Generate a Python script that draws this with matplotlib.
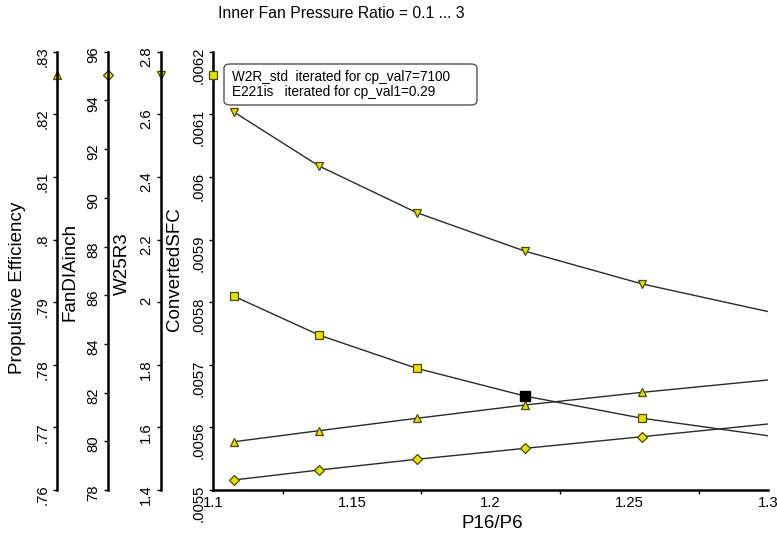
import matplotlib
matplotlib.use("Agg")
import matplotlib.pyplot as plt
from matplotlib.ticker import FuncFormatter, MultipleLocator, FixedLocator
from matplotlib.patches import FancyBboxPatch
import numpy as np

plt.rcParams['font.family'] = ['Liberation Sans', 'DejaVu Sans']

# ---- data ----
p16_p6 = [1.1073, 1.1381, 1.1733, 1.2123, 1.2547, 1.3]
n_marked = 5
converted_sfc = [0.0058098, 0.0057475, 0.0056944, 0.0056501, 0.0056145, 0.0055867]
w25r3 = [2.608, 2.435, 2.286, 2.163, 2.058, 1.970]
propulsive_eff = [0.7677, 0.76947, 0.77145, 0.77357, 0.7756, 0.77757]
fan_dia_inch = [78.41, 78.82, 79.26, 79.71, 80.19, 80.71]
design_index = 3

x_ticks = [1.1, 1.15, 1.2, 1.25, 1.3]
sfc_ticks = [0.0055, 0.0056, 0.0057, 0.0058, 0.0059, 0.006, 0.0061, 0.0062]
w25_ticks = [1.4, 1.6, 1.8, 2.0, 2.2, 2.4, 2.6, 2.8]
eff_ticks = [0.76, 0.77, 0.78, 0.79, 0.80, 0.81, 0.82, 0.83]
fan_ticks = [78, 80, 82, 84, 86, 88, 90, 92, 94, 96]

title = "Inner Fan Pressure Ratio = 0.1 ... 3"
legend_lines = ["W2R_std  iterated for cp_val7=7100",
                "E221is   iterated for cp_val1=0.29"]

# ---- style ----
W, H = 777, 537
fig = plt.figure(figsize=(W / 100, H / 100), dpi=100)
ax_l, ax_r, ax_b, ax_t = 213.3, 768.0, 490.0, 51.7
ax = fig.add_axes([ax_l / W, 1 - ax_b / H, (ax_r - ax_l) / W, (ax_b - ax_t) / H])

fill = '#e2e200'
edge = '#4a4a00'
line_c = '#2a2a2a'
spine_lw = 1.8
tick_fs = 10.7


def fmt(v, pos):
    s = f"{v:.6g}"
    if s.startswith("0."):
        s = s[1:]
    return s


def style_axis(a, ticks, lims):
    for s in ['top', 'right', 'bottom']:
        a.spines[s].set_visible(False)
    a.spines['left'].set_visible(True)
    a.spines['left'].set_linewidth(spine_lw)
    a.yaxis.set_ticks_position('left')
    a.yaxis.set_major_locator(FixedLocator(ticks))
    a.yaxis.set_major_formatter(FuncFormatter(fmt))
    a.set_ylim(*lims)
    a.tick_params(axis='y', which='major', length=3, width=1, pad=2.5,
                  labelsize=tick_fs, labelrotation=90, direction='out')
    a.patch.set_visible(False)


ax.set_xlim(1.1, 1.3)
style_axis(ax, sfc_ticks, (0.0055, 0.0062))
ax.spines['bottom'].set_visible(True)
ax.spines['bottom'].set_linewidth(spine_lw)
ax.xaxis.set_major_locator(FixedLocator(x_ticks))
ax.xaxis.set_minor_locator(MultipleLocator(0.025))
ax.xaxis.set_major_formatter(FuncFormatter(lambda v, p: f"{v:g}"))
ax.tick_params(axis='x', which='major', length=0, pad=4, labelsize=tick_fs)
ax.tick_params(axis='x', which='minor', length=3, width=1, direction='out')

axes_w = ax_r - ax_l
spine_x = {'eff': 57.3, 'fan': 108.3, 'w25': 161.0}


def make_twin(key, ticks, lims):
    t = ax.twinx()
    style_axis(t, ticks, lims)
    t.spines['left'].set_position(('axes', (spine_x[key] - ax_l) / axes_w))
    t.yaxis.set_label_position('left')
    return t


ax_eff = make_twin('eff', eff_ticks, (0.76, 0.83))
ax_fan = make_twin('fan', fan_ticks, (78, 96))
ax_w25 = make_twin('w25', w25_ticks, (1.4, 2.8))

series = [
    (ax, converted_sfc, 's', 5.2),
    (ax_w25, w25r3, 'v', 6.2),
    (ax_eff, propulsive_eff, '^', 6.2),
    (ax_fan, fan_dia_inch, 'D', 5.2),
]
for a, ys, mk, ms in series:
    a.plot(p16_p6, ys, color=line_c, lw=1.0, zorder=2)
    a.plot(p16_p6[:n_marked], ys[:n_marked], ls='none', marker=mk, ms=ms,
           mfc=fill, mec=edge, mew=0.9, zorder=3)

# design point highlight
ax.plot([p16_p6[design_index]], [converted_sfc[design_index]], ls='none',
        marker='s', ms=7, mfc='black', mec='black', zorder=5)

# axis indicator markers at top of each vertical axis
ind_y = (ax_b - 75.0) / (ax_b - ax_t)
for xpix, mk, ms in [(57.3, '^', 6.2), (108.3, 'D', 5.2), (161.0, 'v', 6.2), (213.3, 's', 5.2)]:
    ax.plot([(xpix - ax_l) / axes_w], [ind_y], transform=ax.transAxes, ls='none',
            marker=mk, ms=ms, mfc=fill, mec=edge, mew=0.9, clip_on=False, zorder=6)

# axis labels
lab_fs = 13.5
fig.text(18 / W, 1 - 288 / H, "Propulsive Efficiency", rotation=90, ha='center', va='center', fontsize=lab_fs)
fig.text(70 / W, 1 - 272 / H, "FanDIAinch", rotation=90, ha='center', va='center', fontsize=lab_fs)
fig.text(122 / W, 1 - 264 / H, "W25R3", rotation=90, ha='center', va='center', fontsize=lab_fs)
fig.text(175 / W, 1 - 269 / H, "ConvertedSFC", rotation=90, ha='center', va='center', fontsize=lab_fs)
fig.text(492 / W, 1 - 523 / H, "P16/P6", ha='center', va='center', fontsize=lab_fs)
fig.text(341 / W, 1 - 13 / H, title, ha='center', va='center', fontsize=11.3)

# legend box
bx0, by0, bx1, by1 = 224, 64, 477, 105
box = FancyBboxPatch((bx0 / W, 1 - by1 / H), (bx1 - bx0) / W, (by1 - by0) / H,
                     boxstyle="round,pad=0,rounding_size=0.008",
                     transform=fig.transFigure, facecolor='white',
                     edgecolor='#555555', lw=1.0, zorder=10)
fig.patches.append(box)
fig.text(232 / W, 1 - 77 / H, legend_lines[0], ha='left', va='center', fontsize=9.8, zorder=11)
fig.text(232 / W, 1 - 92 / H, legend_lines[1], ha='left', va='center', fontsize=9.8, zorder=11)

fig.savefig("out.png", dpi=100)
